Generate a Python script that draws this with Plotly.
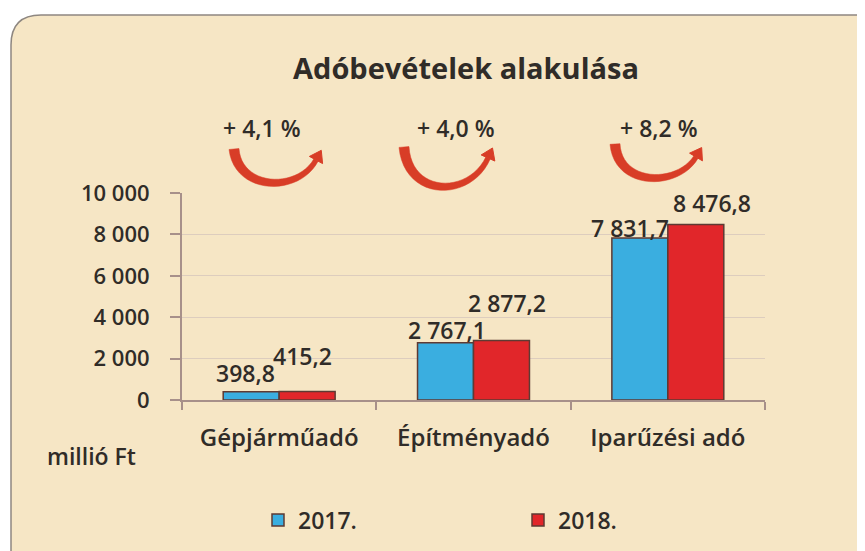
import plotly.graph_objects as go

categories = ["Gépjárműadó", "Építményadó", "Iparűzési adó"]
values_2017 = [398.8, 2767.1, 7831.7]
values_2018 = [415.2, 2877.2, 8476.8]
series_names = ["2017.", "2018."]
y_tickvals = [0, 2000, 4000, 6000, 8000, 10000]
y_ticktext = ["0", "2 000", "4 000", "6 000", "8 000", "10 000"]
title_text = "Adóbevételek alakulása"
unit_text = "millió Ft"

BLUE = "#3AAEE0"
RED = "#E1262A"
OUTLINE = "#5E3A33"
TXT = "#302C28"
BEIGE = "#F6E6C5"
ARROW = "#D83D27"
AXIS = "#A7908A"
FONT = "Open Sans"

# the page body has an 8px margin; figure sized so it ends at the window edge
OFF = 8
W_FIG, H_FIG = 865 - OFF, 551 - OFF
# plot area in reference (window) pixel coordinates
L, R, T, B = 182, 765, 193, 400


def px(x):
    return (x - L) / (R - L)


def py(y):
    return (B - y) / (B - T)


def fmt(v):
    s = f"{v:,.1f}"
    return s.replace(",", " ").replace(".", ",")


fig = go.Figure()
fig.add_trace(go.Bar(name=series_names[0], x=categories, y=values_2017,
                     marker=dict(color=BLUE, line=dict(color=OUTLINE, width=1.5))))
fig.add_trace(go.Bar(name=series_names[1], x=categories, y=values_2018,
                     marker=dict(color=RED, line=dict(color=OUTLINE, width=1.5))))

shapes = []
# rounded beige panel
x0, y0, x1, y1, r = 11, 15, 900, 600, 30
path = (f"M {px(x0 + r)},{py(y0)} L {px(x1)},{py(y0)} L {px(x1)},{py(y1)} "
        f"L {px(x0)},{py(y1)} L {px(x0)},{py(y0 + r)} "
        f"Q {px(x0)},{py(y0)} {px(x0 + r)},{py(y0)} Z")
shapes.append(dict(type="path", xref="paper", yref="paper", path=path,
                   fillcolor=BEIGE, line=dict(color="#8E8781", width=1.5), layer="below"))


def bez(p0, c1, c2, p3, t):
    mt = 1 - t
    x = mt**3 * p0[0] + 3 * mt * mt * t * c1[0] + 3 * mt * t * t * c2[0] + t**3 * p3[0]
    y = mt**3 * p0[1] + 3 * mt * mt * t * c1[1] + 3 * mt * t * t * c2[1] + t**3 * p3[1]
    return x, y


def dbez(p0, c1, c2, p3, t):
    mt = 1 - t
    dx = 3 * mt * mt * (c1[0] - p0[0]) + 6 * mt * t * (c2[0] - c1[0]) + 3 * t * t * (p3[0] - c2[0])
    dy = 3 * mt * mt * (c1[1] - p0[1]) + 6 * mt * t * (c2[1] - c1[1]) + 3 * t * t * (p3[1] - c2[1])
    n = (dx * dx + dy * dy) ** 0.5
    return dx / n, dy / n


# curved arrows (decoration) in window pixels
arrows = [
    ((234, 149), (238, 191), (298, 193), (316, 160)),
    ((404, 147), (408, 198), (470, 198), (488, 158)),
    ((615, 144), (618, 187), (678, 187), (696, 157)),
]
N = 24
for p0, c1, c2, p3 in arrows:
    left, right = [], []
    for k in range(N + 1):
        t = k / N
        x, y = bez(p0, c1, c2, p3, t)
        ux, uy = dbez(p0, c1, c2, p3, t)
        hw = 5.0 - 2.6 * t
        left.append((x - uy * hw, y + ux * hw))
        right.append((x + uy * hw, y - ux * hw))
    pts = left + right[::-1]
    pth = "M " + " L ".join(f"{px(a)},{py(b)}" for a, b in pts) + " Z"
    shapes.append(dict(type="path", xref="paper", yref="paper", path=pth,
                       fillcolor=ARROW, line=dict(color=ARROW, width=0.5)))
    ux, uy = dbez(p0, c1, c2, p3, 1.0)
    tip = (p3[0] + ux * 11, p3[1] + uy * 11)
    b1 = (p3[0] - uy * 7.5, p3[1] + ux * 7.5)
    b2 = (p3[0] + uy * 7.5, p3[1] - ux * 7.5)
    tri = (f"M {px(tip[0])},{py(tip[1])} L {px(b1[0])},{py(b1[1])} "
           f"L {px(b2[0])},{py(b2[1])} Z")
    shapes.append(dict(type="path", xref="paper", yref="paper", path=tri,
                       fillcolor=ARROW, line=dict(color=ARROW, width=1)))

annotations = []
LBL = dict(family=FONT, size=23, color=TXT, weight=600)
# data labels (offsets in pixels from bar top-centre)
shift17 = [(-6, 19), (1, 13), (-10, 10)]
shift18 = [(-5, 35), (5, 37), (16, 22)]
for i, c in enumerate(categories):
    annotations.append(dict(x=c, y=values_2017[i], xref="x", yref="y", text=fmt(values_2017[i]),
                            showarrow=False, yanchor="middle", xshift=-28 + shift17[i][0],
                            yshift=shift17[i][1], font=LBL))
    annotations.append(dict(x=c, y=values_2018[i], xref="x", yref="y", text=fmt(values_2018[i]),
                            showarrow=False, yanchor="middle", xshift=28 + shift18[i][0],
                            yshift=shift18[i][1], font=LBL))

# growth labels
growth_pos = [262, 456, 659]
for i, c in enumerate(categories):
    g = (values_2018[i] / values_2017[i] - 1) * 100
    txt = f"+ {g:.1f} %".replace(".", ",")
    annotations.append(dict(x=px(growth_pos[i]), y=py(128), xref="paper", yref="paper",
                            text=txt, showarrow=False, xanchor="center", yanchor="middle",
                            font=LBL))

annotations.append(dict(x=px(45), y=py(456), xref="paper", yref="paper", text=unit_text,
                        showarrow=False, xanchor="left", yanchor="middle",
                        font=dict(family=FONT, size=23, color=TXT, weight=600)))

fig.update_layout(
    width=W_FIG, height=H_FIG,
    margin=dict(l=L - OFF, r=W_FIG - (R - OFF), t=T - OFF, b=H_FIG - (B - OFF), pad=0),
    paper_bgcolor="white", plot_bgcolor="rgba(0,0,0,0)",
    barmode="group", bargap=0.424, bargroupgap=0,
    title=dict(text=title_text, x=(466 - OFF) / W_FIG, xref="container", xanchor="center",
               y=1 - (69 - OFF) / H_FIG, yref="container", yanchor="middle",
               font=dict(family=FONT, size=29, color=TXT, weight=700)),
    font=dict(family=FONT, color=TXT),
    showlegend=True,
    legend=dict(orientation="h", x=(258 - OFF) / W_FIG, y=1 - (520 - OFF) / H_FIG,
                xref="container", yref="container", xanchor="left", yanchor="middle",
                entrywidth=215, entrywidthmode="pixels", bgcolor="rgba(0,0,0,0)",
                font=dict(family=FONT, size=23, color=TXT, weight=600), itemwidth=30),
    shapes=shapes, annotations=annotations,
)
fig.update_xaxes(showline=True, linecolor=AXIS, linewidth=2, ticks="outside",
                 tickson="boundaries", ticklen=8, tickcolor=AXIS, tickwidth=1.5,
                 ticklabelstandoff=15, showgrid=False,
                 tickfont=dict(family=FONT, size=24, color=TXT, weight=600))
fig.update_yaxes(range=[0, 10000], tickvals=y_tickvals, ticktext=y_ticktext,
                 showline=True, linecolor=AXIS, linewidth=2, ticks="outside",
                 ticklen=10, tickcolor=AXIS, tickwidth=1.5, ticklabelstandoff=16,
                 showgrid=True, gridcolor="#DDCDBE", gridwidth=1, zeroline=False,
                 tickfont=dict(family=FONT, size=22, color=TXT, weight=600))

fig.write_html("out.html")
